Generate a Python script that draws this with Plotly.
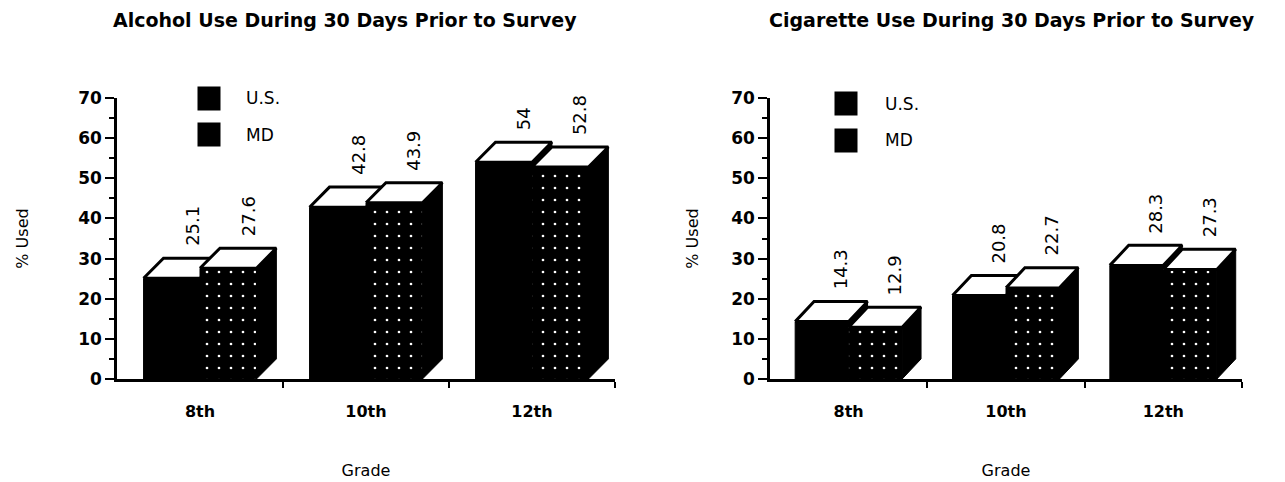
import plotly.graph_objects as go

# ---------------- data ----------------
grades = ["8th", "10th", "12th"]
series_names = ["U.S.", "MD"]

alcohol_us = [25.1, 42.8, 54.0]
alcohol_md = [27.6, 43.9, 52.8]
alcohol_us_labels = ["25.1", "42.8", "54"]
alcohol_md_labels = ["27.6", "43.9", "52.8"]

cig_us = [14.3, 20.8, 28.3]
cig_md = [12.9, 22.7, 27.3]
cig_us_labels = ["14.3", "20.8", "28.3"]
cig_md_labels = ["12.9", "22.7", "27.3"]

y_ticks = [0, 10, 20, 30, 40, 50, 60, 70]
titles = ["Alcohol Use During 30 Days Prior to Survey",
          "Cigarette Use During 30 Days Prior to Survey"]

# ---------------- style ----------------
FONT = "DejaVu Sans"
BAR_W = 0.34      # width of each bar front (category units)
DX = 0.12         # 3D depth, horizontal (category units)
DY = 5.0          # 3D depth, vertical (value units)
OFF = 8           # page body margin in px

fig = go.Figure()


def add_bars(xref, yref, values, fill_pattern):
    sx, sy, fx, fy, tx, ty = [], [], [], [], [], []
    for i, v in enumerate(values):
        x0 = i - BAR_W + (0 if fill_pattern is None else BAR_W)
        x1 = x0 + BAR_W
        # side face
        sx += [x1, x1 + DX, x1 + DX, x1, x1, None]
        sy += [0, DY, v + DY, v, 0, None]
        # front face
        fx += [x0, x1, x1, x0, x0, None]
        fy += [0, 0, v, v, 0, None]
        # top face
        tx += [x0, x1, x1 + DX, x0 + DX, x0, None]
        ty += [v, v, v + DY, v + DY, v, None]
    common = dict(xaxis=xref, yaxis=yref, mode="lines", fill="toself",
                  showlegend=False, hoverinfo="skip")
    fig.add_trace(go.Scatter(x=sx, y=sy, fillcolor="black",
                             line=dict(color="black", width=1), **common))
    front = dict(x=fx, y=fy, fillcolor="black",
                 line=dict(color="black", width=1), **common)
    if fill_pattern is not None:
        front["fillpattern"] = fill_pattern
    fig.add_trace(go.Scatter(**front))
    fig.add_trace(go.Scatter(x=tx, y=ty, fillcolor="white",
                             line=dict(color="black", width=3), **common))


md_pattern = dict(shape=".", bgcolor="black", fgcolor="white",
                  size=12, solidity=0.04, fillmode="replace")

panels = [
    ("x", "y", alcohol_us, alcohol_md, alcohol_us_labels, alcohol_md_labels),
    ("x2", "y2", cig_us, cig_md, cig_us_labels, cig_md_labels),
]

annotations = []
for xref, yref, us, md, us_lab, md_lab in panels:
    add_bars(xref, yref, us, None)
    add_bars(xref, yref, md, md_pattern)
    for s, (vals, labs) in enumerate([(us, us_lab), (md, md_lab)]):
        for i, v in enumerate(vals):
            x0 = i - BAR_W + s * BAR_W
            annotations.append(dict(
                x=x0 + BAR_W / 2 + DX, y=v + DY + 2.5, xref=xref, yref=yref,
                text=labs[i], textangle=-90, showarrow=False,
                xanchor="center", yanchor="bottom",
                font=dict(family=FONT, size=18, color="black")))

# subplot titles
for t, xc in zip(titles, [(345 - OFF) / 1285, (1012 - OFF) / 1285]):
    annotations.append(dict(x=xc, y=1 - (20 - OFF) / 482, xref="paper",
                            yref="paper", text=t, showarrow=False,
                            xanchor="center", yanchor="middle",
                            font=dict(family=FONT, size=19, color="black",
                                      weight="bold")))

# legends (boxes + names)
legend_pos = [("x domain", "y domain", 0.185, 0.255, 1.0),
              ("x2 domain", "y2 domain", 0.16, 0.240, 0.98)]
for xd, yd, bx, tx, y0 in legend_pos:
    for k, name in enumerate(series_names):
        yy = y0 - k * 0.13
        annotations.append(dict(x=bx, y=yy, xref=xd, yref=yd, text=" ",
                                showarrow=False, width=22, height=23,
                                bgcolor="black", borderpad=0,
                                xanchor="center", yanchor="middle"))
        annotations.append(dict(x=tx, y=yy, xref=xd, yref=yd, text=name,
                                showarrow=False, xanchor="left",
                                yanchor="middle",
                                font=dict(family=FONT, size=17, color="black")))

xaxis_common = dict(
    range=[-0.5, 2.5], tickmode="array", tickvals=[0, 1, 2], ticktext=grades,
    ticks="", showline=True, linecolor="black", linewidth=2.5,
    showgrid=False, zeroline=False, ticklabelstandoff=16, automargin=False,
    tickfont=dict(family=FONT, size=16, color="black", weight="bold"),
    minor=dict(tickmode="array", tickvals=[0.5, 1.5, 2.5], ticks="outside",
               ticklen=6, tickwidth=2, tickcolor="black", showgrid=False),
    title=dict(text="Grade", standoff=45,
               font=dict(family=FONT, size=16, color="black")),
    fixedrange=True,
)


def yaxis_cfg(standoff):
    return dict(
        range=[0, 70], tickmode="array", tickvals=y_ticks,
        ticks="outside", ticklen=9, tickwidth=2, tickcolor="black",
        showline=True, linecolor="black", linewidth=2.5, automargin=False,
        showgrid=False, zeroline=False,
        tickfont=dict(family=FONT, size=17, color="black", weight="bold"),
        minor=dict(dtick=5, ticks="outside", ticklen=5, tickwidth=2,
                   tickcolor="black", showgrid=False),
        title=dict(text="% Used", standoff=standoff,
                   font=dict(family=FONT, size=16, color="black")),
        fixedrange=True,
    )


y_dom = [1 - (379 - OFF) / 482, 1 - (98 - OFF) / 482]
fig.update_layout(
    width=1285, height=482,
    margin=dict(l=0, r=0, t=0, b=0, autoexpand=False),
    paper_bgcolor="white", plot_bgcolor="white",
    showlegend=False,
    xaxis=dict(domain=[(117 - OFF) / 1285, (615 - OFF) / 1285], anchor="y",
               **xaxis_common),
    yaxis=dict(domain=y_dom, anchor="x", **yaxis_cfg(46)),
    xaxis2=dict(domain=[(770 - OFF) / 1285, (1242 - OFF) / 1285],
                anchor="y2", **xaxis_common),
    yaxis2=dict(domain=y_dom, anchor="x2", **yaxis_cfg(29)),
    annotations=annotations,
)

fig.write_html("out.html")
